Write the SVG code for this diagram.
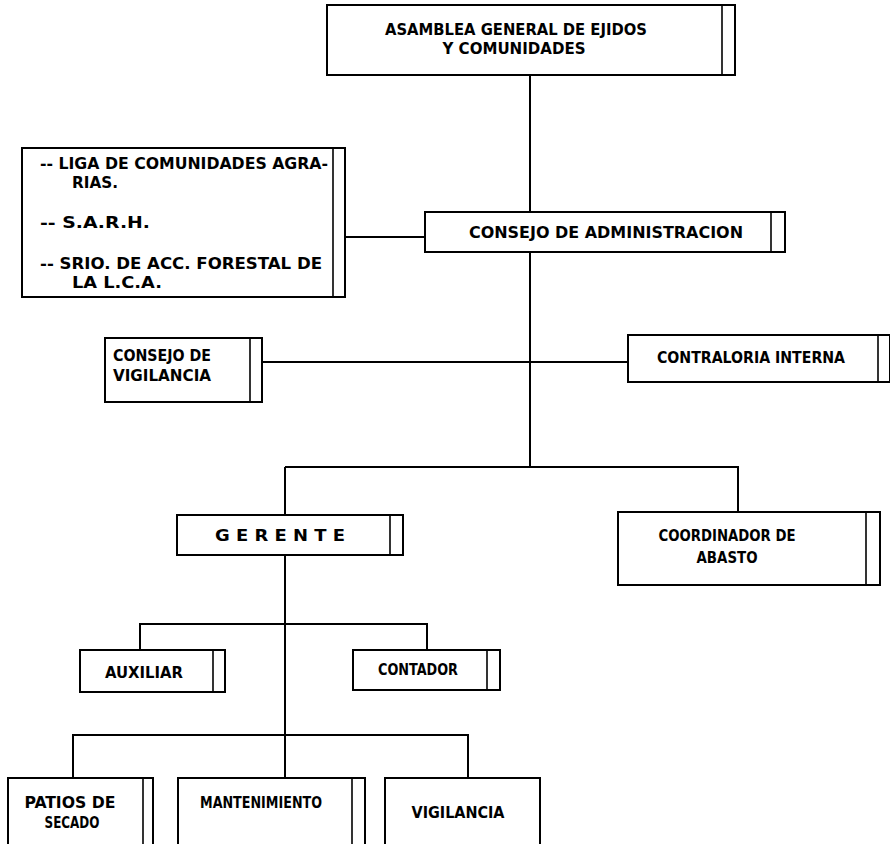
<svg xmlns="http://www.w3.org/2000/svg" width="890" height="844" viewBox="0 0 890 844">
<style>
.b{fill:#fff;stroke:#000;stroke-width:2}
.i{stroke:#000;stroke-width:1.6;fill:none}
.c{stroke:#000;stroke-width:2;fill:none}
text{font-family:"Liberation Sans Narrow","DejaVu Sans Condensed","Liberation Sans",sans-serif;font-weight:bold;font-size:16px;fill:#000}
.m{text-anchor:middle}
</style>
<rect width="890" height="844" fill="#fff"/>
<g id="connectors">
<path class="c" d="M530 75V212"/>
<path class="c" d="M345 237H425"/>
<path class="c" d="M530 252V467"/>
<path class="c" d="M262 362H628"/>
<path class="c" d="M285 467H738V512M285 467V515"/>
<path class="c" d="M285 555V778"/>
<path class="c" d="M140 650V624H427V650"/>
<path class="c" d="M73 778V735H468V778"/>
</g>
<g id="asamblea">
<rect class="b" x="327" y="5" width="408" height="70"/>
<path class="i" d="M722 5V75"/>
<text x="516" y="35" class="m" textLength="262" lengthAdjust="spacingAndGlyphs">ASAMBLEA GENERAL DE EJIDOS</text>
<text x="514" y="54" class="m" textLength="143" lengthAdjust="spacingAndGlyphs">Y COMUNIDADES</text>
</g>
<g id="liga">
<rect class="b" x="22" y="148" width="323" height="149"/>
<path class="i" d="M333 148V297"/>
<text x="40" y="169" textLength="288" lengthAdjust="spacingAndGlyphs">-- LIGA DE COMUNIDADES AGRA-</text>
<text x="72" y="188" textLength="46" lengthAdjust="spacingAndGlyphs">RIAS.</text>
<text x="40" y="228" textLength="110" lengthAdjust="spacingAndGlyphs">-- S.A.R.H.</text>
<text x="40" y="269" textLength="282" lengthAdjust="spacingAndGlyphs">-- SRIO. DE ACC. FORESTAL DE</text>
<text x="72" y="288" textLength="90" lengthAdjust="spacingAndGlyphs">LA L.C.A.</text>
</g>
<g id="consejo-admin">
<rect class="b" x="425" y="212" width="360" height="40"/>
<path class="i" d="M771 212V252"/>
<text x="606" y="238" class="m" textLength="274" lengthAdjust="spacingAndGlyphs">CONSEJO DE ADMINISTRACION</text>
</g>
<g id="consejo-vigilancia">
<rect class="b" x="105" y="338" width="157" height="64"/>
<path class="i" d="M250 338V402"/>
<text x="162" y="361" class="m" textLength="98" lengthAdjust="spacingAndGlyphs">CONSEJO DE</text>
<text x="162" y="381" class="m" textLength="98" lengthAdjust="spacingAndGlyphs">VIGILANCIA</text>
</g>
<g id="contraloria">
<rect class="b" x="628" y="335" width="262" height="47"/>
<path class="i" d="M878 335V382"/>
<text x="751" y="363" class="m" textLength="188" lengthAdjust="spacingAndGlyphs">CONTRALORIA INTERNA</text>
</g>
<g id="gerente">
<rect class="b" x="177" y="515" width="226" height="40"/>
<path class="i" d="M390 515V555"/>
<text x="280" y="541" class="m" textLength="130" lengthAdjust="spacingAndGlyphs">G E R E N T E</text>
</g>
<g id="coordinador">
<rect class="b" x="618" y="512" width="262" height="73"/>
<path class="i" d="M866 512V585"/>
<text x="727" y="541" class="m" textLength="137" lengthAdjust="spacingAndGlyphs">COORDINADOR DE</text>
<text x="727" y="563" class="m" textLength="61" lengthAdjust="spacingAndGlyphs">ABASTO</text>
</g>
<g id="auxiliar">
<rect class="b" x="80" y="650" width="145" height="42"/>
<path class="i" d="M213 650V692"/>
<text x="144" y="678" class="m" textLength="78" lengthAdjust="spacingAndGlyphs">AUXILIAR</text>
</g>
<g id="contador">
<rect class="b" x="353" y="650" width="147" height="40"/>
<path class="i" d="M487 650V690"/>
<text x="418" y="675" class="m" textLength="80" lengthAdjust="spacingAndGlyphs">CONTADOR</text>
</g>
<g id="patios">
<path class="b" d="M8 846V778H153V846"/>
<path class="i" d="M143 778V846"/>
<text x="70" y="808" class="m" textLength="91" lengthAdjust="spacingAndGlyphs">PATIOS DE</text>
<text x="72" y="828" class="m" textLength="55" lengthAdjust="spacingAndGlyphs">SECADO</text>
</g>
<g id="mantenimiento">
<path class="b" d="M178 846V778H365V846"/>
<path class="i" d="M352 778V846"/>
<text x="261" y="808" class="m" textLength="122" lengthAdjust="spacingAndGlyphs">MANTENIMIENTO</text>
</g>
<g id="vigilancia">
<path class="b" d="M385 846V778H540V846"/>
<text x="458" y="818" class="m" textLength="93" lengthAdjust="spacingAndGlyphs">VIGILANCIA</text>
</g>
</svg>
